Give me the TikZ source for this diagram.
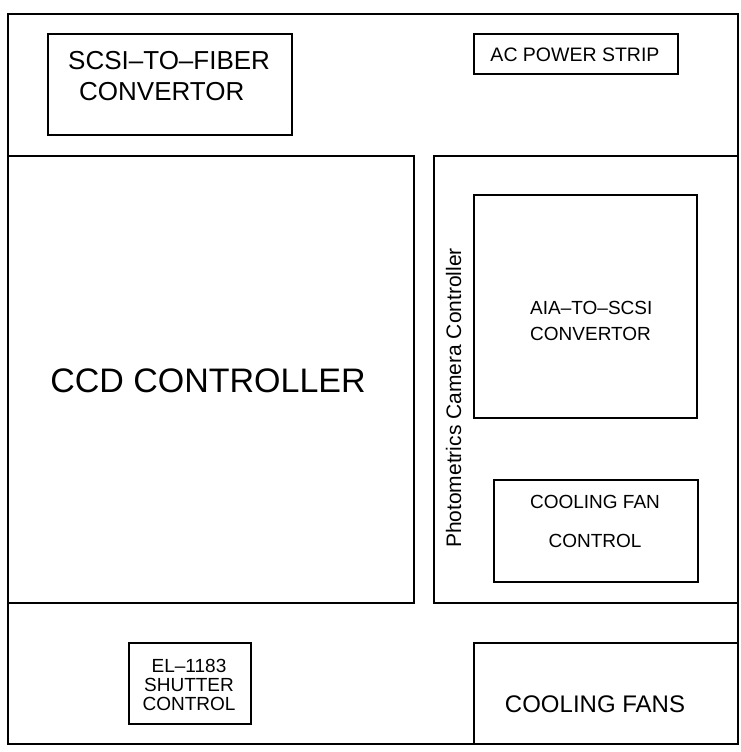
\documentclass[tikz,border=0pt]{standalone}
\usepackage{fontspec}
\setmainfont{Liberation Sans}
\begin{document}
\begin{tikzpicture}[x=1pt,y=-1pt,
  box/.style={draw, line width=1.6pt, inner sep=0pt, anchor=north west},
  lbl/.style={inner sep=0pt, anchor=base},
  lblw/.style={inner sep=0pt, anchor=base west},
  fsmall/.style={font=\fontsize{19}{19}\selectfont},
  fmid/.style={font=\fontsize{24}{24}\selectfont},
  fbig/.style={font=\fontsize{34}{34}\selectfont}]
\useasboundingbox (0,0) rectangle (740,752);
% boxes
\node[box, minimum width=730pt, minimum height=730pt] (frame) at (7,13) {};
\node[box, minimum width=406pt, minimum height=447pt] (ccd) at (7,155) {};
\node[box, minimum width=304pt, minimum height=447pt] (cam) at (433,155) {};
\node[box, minimum width=244pt, minimum height=101pt] (scsi) at (47,33) {};
\node[box, minimum width=204pt, minimum height=40pt] (ac) at (473,33) {};
\node[box, minimum width=223pt, minimum height=223pt] (aia) at (473,194) {};
\node[box, minimum width=204pt, minimum height=102pt] (fanctl) at (493,479) {};
\node[box, minimum width=122pt, minimum height=81pt] (el) at (128,642) {};
\node[box, minimum width=264pt, minimum height=101pt] (fans) at (473,642) {};
% labels
\node[lblw, font=\fontsize{26}{26}\selectfont] (scsiA) at (68,70) {SCSI–TO–FIBER};
\node[lblw, font=\fontsize{26}{26}\selectfont] (scsiB) at (79,100) {CONVERTOR};
\node[lbl, font=\fontsize{19.5}{19.5}\selectfont] (acT) at (575,62) {AC POWER STRIP};
\node[lblw, fsmall] (aiaA) at (530,314) {AIA–TO–SCSI};
\node[lblw, fsmall] (aiaB) at (530,340) {CONVERTOR};
\node[lbl, rotate=90, font=\fontsize{21}{21}\selectfont] (camT) at (461,398) {Photometrics Camera Controller};
\node[lbl, fsmall] (fanA) at (595,508) {COOLING FAN};
\node[lbl, fsmall] (fanB) at (595,547) {CONTROL};
\node[lbl, fsmall] (elA) at (189,672) {EL–1183};
\node[lbl, fsmall] (elB) at (189,691) {SHUTTER};
\node[lbl, fsmall] (elC) at (189,710) {CONTROL};
\node[lbl, fmid] (fansT) at (595,712) {COOLING FANS};
\node[lbl, fbig] (ccdT) at (208,392) {CCD CONTROLLER};
\end{tikzpicture}
\end{document}
